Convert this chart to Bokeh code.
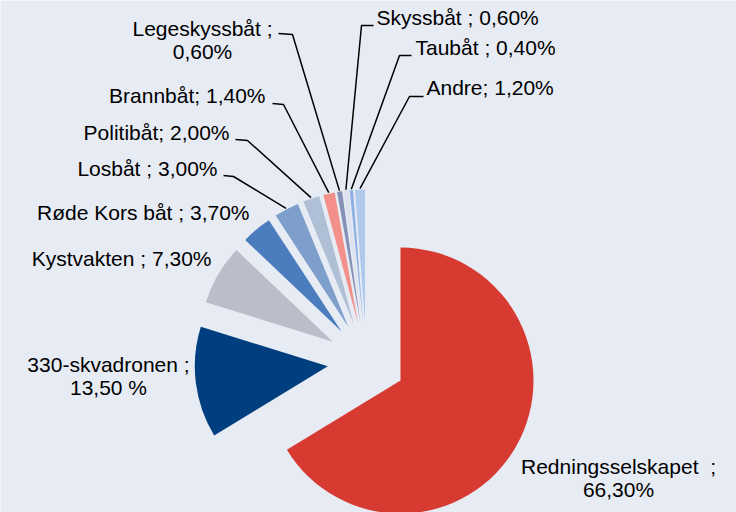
import math
from bokeh.plotting import figure
from bokeh.models import Range1d, ColumnDataSource
from bokeh.embed import file_html
from bokeh.resources import INLINE
from bokeh.core.properties import value

# ---------------- data ----------------
categories = ["Redningsselskapet", "330-skvadronen", "Kystvakten", "Røde Kors båt",
              "Losbåt", "Politibåt", "Brannbåt", "Legeskyssbåt", "Skyssbåt",
              "Taubåt", "Andre"]
shares = [66.3, 13.5, 7.3, 3.7, 3.0, 2.0, 1.4, 0.6, 0.6, 0.4, 1.2]
label_lines = [
    ["Redningsselskapet \u00a0;", "66,30%"],
    ["330-skvadronen ;", "13,50 %"],
    ["Kystvakten ; 7,30%"],
    ["Røde Kors båt ; 3,70%"],
    ["Losbåt ; 3,00%"],
    ["Politibåt; 2,00%"],
    ["Brannbåt; 1,40%"],
    ["Legeskyssbåt ;", "0,60%"],
    ["Skyssbåt ; 0,60%"],
    ["Taubåt ; 0,40%"],
    ["Andre; 1,20%"],
]

# ---------------- style / layout ----------------
colors = ["#D63A30", "#003F7F", "#B9BEC8", "#4A7CBE", "#7E9ECB", "#AFC0D6",
          "#F4908A", "#8591B5", "#DDE3EE", "#8EAFE2", "#AFC9EC"]
BG = "#E7EBF4"
W, H = 736, 512
CX, CY = 366, H - 361      # pie centre (data units = pixels)
R = 133                    # radius
EXPLODE = 39               # explosion distance
FONT = "Liberation Sans"
FS = "21px"
TEXT_SHIFT = 9             # renderer baseline correction

# label placement: (x, [baseline pixel-y per line], align)
label_pos = [
    (618, [475, 498], "center"),
    (108, [373, 396], "center"),
    (211, [267], "right"),
    (249, [221], "right"),
    (217, [177], "right"),
    (229, [141], "right"),
    (265, [104], "right"),
    (202, [37, 60], "center"),
    (376, [26], "left"),
    (415, [56], "left"),
    (426, [96], "left"),
]
# leader stubs (outer point, inner point) in pixel coords; None = no leader
stubs = [None, None, None, None,
         ((223, 175), (233, 176)),
         ((235, 139), (247, 140)),
         ((272, 103), (283, 104)),
         ((278, 33), (292, 34)),
         ((373, 25), (361, 25)),
         ((411, 55), (399, 55)),
         ((423, 96), (409, 96))]

# ---------------- geometry from data ----------------
total = sum(shares)
xs, ys, starts, ends, mids = [], [], [], [], []
cum = 0.0
for s in shares:
    a0 = math.pi / 2 - 2 * math.pi * cum / total
    cum += s
    a1 = math.pi / 2 - 2 * math.pi * cum / total
    mid = (a0 + a1) / 2
    mids.append(mid)
    xs.append(CX + EXPLODE * math.cos(mid))
    ys.append(CY + EXPLODE * math.sin(mid))
    starts.append(a1)
    ends.append(a0)

src = ColumnDataSource(dict(x=xs, y=ys, start=starts, end=ends, color=colors,
                            cat=categories, share=shares))

p = figure(width=W, height=H, output_backend="svg", toolbar_location=None,
           x_range=Range1d(0, W), y_range=Range1d(0, H), min_border=0)
p.axis.visible = False
p.grid.visible = False
p.outline_line_color = None
p.background_fill_color = BG
p.border_fill_color = BG

p.wedge(x="x", y="y", radius=R, start_angle="start", end_angle="end",
        fill_color="color", line_color=None, source=src)

# leader lines
lx, ly = [], []
for i, st in enumerate(stubs):
    if st is None:
        continue
    (ox, oy), (ix, iy) = st
    ax = CX + (EXPLODE + R + 1) * math.cos(mids[i])
    ay = CY + (EXPLODE + R + 1) * math.sin(mids[i])
    lx.append([ox, ix, ax])
    ly.append([H - oy, H - iy, ay])
p.multi_line(xs=lx, ys=ly, line_color="black", line_width=1.5)

# labels
for align in ("left", "right", "center"):
    tx, ty, tt = [], [], []
    for (x, bys, al), lines in zip(label_pos, label_lines):
        if al != align:
            continue
        for by, line in zip(bys, lines):
            tx.append(x)
            ty.append(H - (by - TEXT_SHIFT))
            tt.append(line)
    if tt:
        p.text(x=tx, y=ty, text=tt, text_align=align, text_baseline="alphabetic",
               text_font=value(FONT), text_font_size=FS, text_color="#000000")

open("out.html", "w").write(file_html(p, INLINE))
